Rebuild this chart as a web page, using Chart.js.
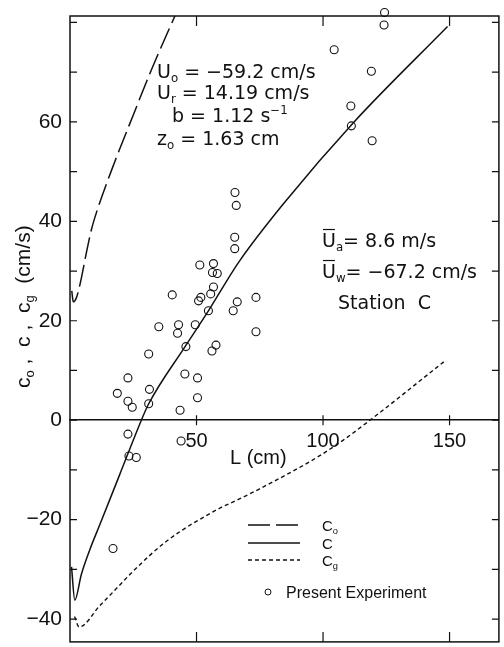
<!DOCTYPE html>
<html>
<head>
<meta charset="utf-8">
<script src="https://cdn.jsdelivr.net/npm/chart.js@4.4.1/dist/chart.umd.min.js"></script>
<style>
  html, body { margin: 0; padding: 0; background: #fff; }
  canvas { display: block; }
</style>
</head>
<body>
<canvas id="speedChart" width="504" height="647"></canvas>
<script>
// wavelength L (cm) against speed (cm/s)
const coL     = [0.7, 1.3, 2.5, 3.9, 6.6, 8.5, 10.6, 17.7, 24.7, 32.6, 41.2, 42.5];
const coSpeed = [26.0, 23.8, 24.6, 27.2, 34.0, 38.4, 42.0, 52.0, 61.0, 71.0, 81.0, 82.5];

const cL     = [0.6, 1.9, 4.5, 7.8, 11.8, 19.6, 28.2, 31.0, 45.6, 54.7, 66.7, 85.1, 111.9, 149.2];
const cSpeed = [-29.5, -36.2, -31.0, -26.1, -21.0, -11.0, 0.0, 3.2, 14.9, 22.0, 31.8, 44.0, 59.8, 79.2];

const cgL     = [1.8, 3.6, 11.8, 19.6, 24.9, 38.0, 57.7, 66.7, 74.6, 98.2, 108.0, 117.8, 147.9];
const cgSpeed = [-39.5, -41.6, -37.3, -33.2, -30.4, -24.4, -18.1, -15.9, -13.9, -7.3, -4.0, -0.3, 11.8];

const expL = [17.0, 18.7, 22.9, 22.9, 24.6, 22.9, 23.3, 26.2, 31.1, 31.4, 31.1, 35.1, 40.4, 42.9,
              42.5, 43.5, 43.9, 45.8, 45.4, 49.5, 50.8, 51.3, 50.4, 50.4, 51.7, 54.7, 55.6, 56.7,
              56.7, 56.3, 58.2, 56.1, 57.7, 65.2, 65.7, 65.1, 65.1, 64.5, 66.1, 73.5, 73.5, 104.4,
              111.0, 111.2, 119.1, 119.4, 124.1, 124.3];
const expSpeed = [-25.8, 5.4, 8.5, 3.8, 2.6, -2.8, -7.2, -7.5, 13.3, 6.2, 3.3, 18.8, 25.2, 19.2,
                  17.5, 2.0, -4.2, 14.8, 9.3, 19.2, 24.0, 31.2, 8.5, 4.5, 24.7, 22.0, 25.4, 26.8,
                  31.5, 29.7, 29.5, 13.9, 15.1, 45.8, 43.2, 36.8, 34.5, 22.0, 23.8, 24.7, 17.8, 74.5,
                  63.2, 59.2, 70.2, 56.2, 79.5, 82.0];

const xTickValues = [50, 100, 150];
const yTickValues = [-40, -20, 0, 20, 40, 60];
const yMinorValues = [-40, -30, -20, -10, 0, 10, 20, 30, 40, 50, 60, 70, 80];

const INK = '#111';
const TICK_FONT = 'Liberation Sans';
const NOTE_FONT = 'DejaVu Sans';
const dashLong = [22, 6];
const dashShort = [4, 3];

const toPoints = (xs, ys) => xs.map((v, i) => ({ x: v, y: ys[i] }));

// text with subscripts, superscripts and overbars
function drawRuns(ctx, runs, x, y, size, family) {
  ctx.textBaseline = 'alphabetic';
  ctx.textAlign = 'left';
  for (const [text, kind] of runs) {
    const small = kind === 'sub' || kind === 'sup';
    const fs = small ? size * 0.62 : size;
    ctx.font = fs + 'px "' + family + '"';
    const dy = kind === 'sub' ? size * 0.2 : kind === 'sup' ? -size * 0.42 : 0;
    ctx.fillText(text, x, y + dy);
    const w = ctx.measureText(text).width;
    if (kind === 'bar') {
      ctx.beginPath();
      ctx.lineWidth = 1.2;
      ctx.moveTo(x + 1, y - size * 0.92);
      ctx.lineTo(x + w - 1, y - size * 0.92);
      ctx.stroke();
    }
    x += w;
  }
}

const notes = [
  { x: 157, y: 78, runs: [['U', ''], ['o', 'sub'], [' = −59.2 cm/s', '']] },
  { x: 157, y: 99, runs: [['U', ''], ['r', 'sub'], [' = 14.19 cm/s', '']] },
  { x: 172, y: 122, runs: [['b = 1.12 s', ''], ['−1', 'sup']] },
  { x: 157, y: 145, runs: [['z', ''], ['o', 'sub'], [' = 1.63 cm', '']] },
  { x: 322, y: 247, runs: [['U', 'bar'], ['a', 'sub'], ['= 8.6 m/s', '']] },
  { x: 322, y: 278, runs: [['U', 'bar'], ['w', 'sub'], ['= −67.2 cm/s', '']] },
  { x: 338, y: 309, runs: [['Station  C', '']] }
];

const legendRows = [
  { y: 525, dash: dashLong, runs: [['C', ''], ['o', 'sub']] },
  { y: 543, dash: [], runs: [['C', '']] },
  { y: 560, dash: dashShort, runs: [['C', ''], ['g', 'sub']] }
];

const frameAndNotes = {
  id: 'frameAndNotes',
  afterDraw(chart) {
    const { ctx, chartArea: a, scales: { x, y } } = chart;
    ctx.save();
    ctx.strokeStyle = INK;
    ctx.fillStyle = INK;

    // plot frame
    ctx.lineWidth = 1.5;
    ctx.strokeRect(a.left, a.top, a.right - a.left, a.bottom - a.top);

    // inward tick marks
    ctx.lineWidth = 1.2;
    ctx.beginPath();
    yMinorValues.forEach(v => {
      const py = y.getPixelForValue(v);
      ctx.moveTo(a.left, py); ctx.lineTo(a.left + 7, py);
      ctx.moveTo(a.right, py); ctx.lineTo(a.right - 7, py);
    });
    const y0 = y.getPixelForValue(0);
    xTickValues.forEach(v => {
      const px = x.getPixelForValue(v);
      ctx.moveTo(px, a.top); ctx.lineTo(px, a.top + 10);
      ctx.moveTo(px, a.bottom); ctx.lineTo(px, a.bottom - 10);
      ctx.moveTo(px, y0 - 5); ctx.lineTo(px, y0 + 5);
    });
    ctx.stroke();

    // axis titles
    ctx.font = '20px "' + TICK_FONT + '"';
    ctx.textBaseline = 'alphabetic';
    ctx.fillText('L (cm)', 230, 464);

    ctx.save();
    ctx.translate(30, 388);
    ctx.rotate(-Math.PI / 2);
    drawRuns(ctx, [['c', ''], ['o', 'sub'], [' ,  c ,  c', ''], ['g', 'sub'], ['  (cm/s)', '']], 0, 0, 21, TICK_FONT);
    ctx.restore();

    // parameter notes
    notes.forEach(n => drawRuns(ctx, n.runs, n.x, n.y, 19, NOTE_FONT));

    // key
    legendRows.forEach(r => {
      ctx.beginPath();
      ctx.lineWidth = 1.6;
      ctx.setLineDash(r.dash);
      ctx.moveTo(248, r.y);
      ctx.lineTo(300, r.y);
      ctx.stroke();
      ctx.setLineDash([]);
      drawRuns(ctx, r.runs, 322, r.y + 6, 15, TICK_FONT);
    });
    ctx.beginPath();
    ctx.lineWidth = 1;
    ctx.arc(268, 592, 3, 0, Math.PI * 2);
    ctx.stroke();
    ctx.font = '16px "' + TICK_FONT + '"';
    ctx.fillText('Present Experiment', 286, 598);

    ctx.restore();
  }
};

const curveStyle = {
  showLine: true,
  pointRadius: 0,
  borderColor: INK,
  borderWidth: 1.5,
  cubicInterpolationMode: 'monotone'
};

new Chart(document.getElementById('speedChart'), {
  type: 'scatter',
  data: {
    datasets: [
      { ...curveStyle, label: 'Co', data: toPoints(coL, coSpeed), borderDash: dashLong },
      { ...curveStyle, label: 'C', data: toPoints(cL, cSpeed) },
      { ...curveStyle, label: 'Cg', data: toPoints(cgL, cgSpeed), borderDash: dashShort, borderWidth: 1.4 },
      {
        label: 'Present Experiment',
        data: toPoints(expL, expSpeed),
        pointRadius: 4,
        pointBorderWidth: 1.1,
        borderColor: INK,
        backgroundColor: 'rgba(0,0,0,0)',
        clip: false
      }
    ]
  },
  options: {
    responsive: false,
    devicePixelRatio: 1,
    animation: false,
    layout: { padding: { left: 0, top: 16, right: 2.5, bottom: 1.5 } },
    plugins: { legend: { display: false }, tooltip: { enabled: false } },
    scales: {
      x: {
        type: 'linear',
        min: 0,
        max: 169.5,
        position: { y: 0 },
        grid: { display: false, drawTicks: false },
        border: { display: true, color: INK, width: 1.5 },
        ticks: { padding: 9, color: INK, font: { family: TICK_FONT, size: 20 } },
        afterBuildTicks: s => { s.ticks = xTickValues.map(v => ({ value: v })); },
        afterFit: s => { s.paddingLeft = 0; s.paddingRight = 0; }
      },
      y: {
        type: 'linear',
        position: 'left',
        min: -44.6,
        max: 81.3,
        grid: { display: false, drawTicks: false },
        border: { display: false },
        ticks: {
          padding: 8,
          color: INK,
          font: { family: TICK_FONT, size: 21 },
          callback: v => (v < 0 ? '−' + Math.abs(v) : String(v))
        },
        afterBuildTicks: s => { s.ticks = yTickValues.map(v => ({ value: v })); },
        afterFit: s => { s.width = 70; s.paddingTop = 0; s.paddingBottom = 0; }
      }
    }
  },
  plugins: [frameAndNotes]
});
</script>
</body>
</html>
